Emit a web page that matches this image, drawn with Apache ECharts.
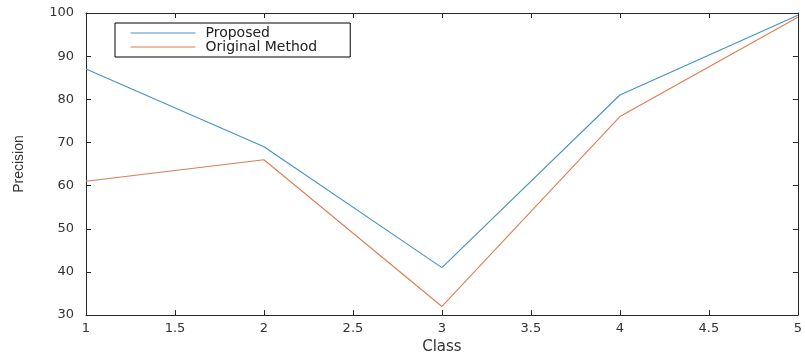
<!DOCTYPE html>
<html>
<head>
<meta charset="utf-8">
<script src="https://cdn.jsdelivr.net/npm/echarts@6/dist/echarts.min.js"></script>
<style>
  html, body { margin: 0; padding: 0; background: #fff; }
  #main { width: 805px; height: 360px; }
</style>
</head>
<body>
<div id="main"></div>
<script>
// 数据
var classes = [1, 2, 3, 4, 5];
var proposed = [87, 69, 41, 81, 99.5];
var original = [61, 66, 32, 76, 99];
var seriesNames = ['Proposed', 'Original Method'];

function pairs(xs, ys) {
    var arr = [];
    for (var i = 0; i < xs.length; i++) {
        arr.push([xs[i], ys[i]]);
    }
    return arr;
}

var axisColor = '#262626';
var labelColor = '#333';
var font = 'DejaVu Sans, sans-serif';

var myChart = echarts.init(document.getElementById('main'));

var option = {
    animation: false,
    color: ['#4492cc', '#de7d52'],
    grid: {
        left: 86,
        right: 4,
        top: 13,
        bottom: 43
    },
    legend: {
        orient: 'vertical',
        left: 115,
        top: 23,
        itemWidth: 65,
        itemHeight: 15,
        itemGap: 0,
        padding: [3, 33, 3, 15],
        borderColor: '#000',
        borderWidth: 1,
        backgroundColor: '#fff',
        itemStyle: { opacity: 0 },
        lineStyle: { width: 1 },
        textStyle: {
            color: '#222',
            fontSize: 14,
            fontFamily: font,
            padding: [0, 0, 0, 5]
        },
        data: seriesNames
    },
    xAxis: [
        {
            type: 'value',
            min: 1,
            max: 5,
            interval: 0.5,
            name: 'Class',
            nameLocation: 'middle',
            nameGap: 22,
            nameTextStyle: { color: labelColor, fontSize: 15, fontFamily: font },
            axisLine: { lineStyle: { color: axisColor, width: 1 } },
            axisTick: { inside: true, length: 5, lineStyle: { color: axisColor } },
            axisLabel: { color: labelColor, fontSize: 13, fontFamily: font, margin: 7 },
            splitLine: { show: false }
        },
        {
            type: 'value',
            position: 'top',
            min: 1,
            max: 5,
            interval: 0.5,
            axisLine: { show: true, lineStyle: { color: axisColor, width: 1 } },
            axisTick: { inside: true, length: 5, lineStyle: { color: axisColor } },
            axisLabel: { show: false },
            splitLine: { show: false }
        }
    ],
    yAxis: [
        {
            type: 'value',
            min: 30,
            max: 100,
            interval: 10,
            name: 'Precision',
            nameLocation: 'middle',
            nameGap: 60,
            nameTextStyle: { color: labelColor, fontSize: 14, fontFamily: 'Liberation Sans, Arial, sans-serif' },
            axisLine: { show: true, lineStyle: { color: axisColor, width: 1 } },
            axisTick: { show: true, inside: true, length: 5, lineStyle: { color: axisColor } },
            axisLabel: { color: labelColor, fontSize: 13, fontFamily: font, margin: 12 },
            splitLine: { show: false }
        },
        {
            type: 'value',
            position: 'right',
            min: 30,
            max: 100,
            interval: 10,
            axisLine: { show: true, lineStyle: { color: axisColor, width: 1 } },
            axisTick: { show: true, inside: true, length: 5, lineStyle: { color: axisColor } },
            axisLabel: { show: false },
            splitLine: { show: false }
        }
    ],
    series: [
        {
            name: seriesNames[0],
            type: 'line',
            symbol: 'none',
            lineStyle: { width: 1.1 },
            data: pairs(classes, proposed)
        },
        {
            name: seriesNames[1],
            type: 'line',
            symbol: 'none',
            lineStyle: { width: 1.1 },
            data: pairs(classes, original)
        }
    ]
};

myChart.setOption(option);
</script>
</body>
</html>
